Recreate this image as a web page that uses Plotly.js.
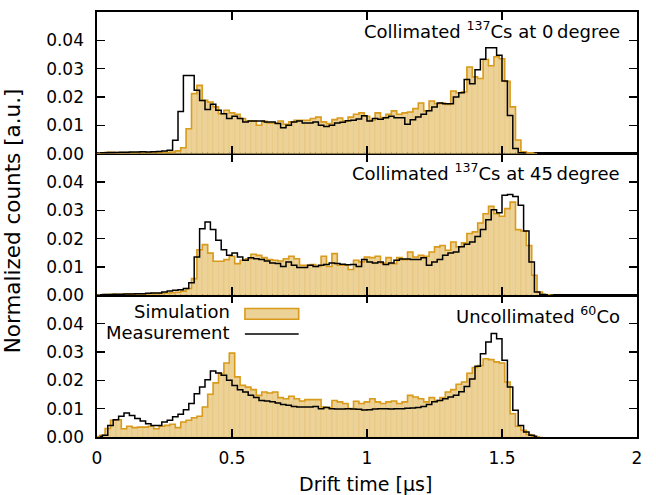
<!DOCTYPE html>
<html>
<head>
<meta charset="utf-8">
<script src="https://cdn.plot.ly/plotly-3.0.1.min.js"></script>
<style>html,body{margin:0;padding:0;background:#fff;}#chart{width:656px;height:495px;}</style>
</head>
<body>
<div id="chart"></div>
<script>
// ---------------- data ----------------
var binWidth = 0.02;             // µs
var xTickVals = [0, 0.5, 1, 1.5, 2];
var xTickText = ["0", "0.5", "1", "1.5", "2"];
var yTickVals = [0, 0.01, 0.02, 0.03, 0.04];

var panelLabels = [
  "Collimated <sup>137</sup>Cs at 0\u2009degree",
  "Collimated <sup>137</sup>Cs at 45\u2009degree",
  "Uncollimated <sup>60</sup>Co"
];
var seriesNames = ["Simulation", "Measurement"];

// Panel 1: collimated 137Cs, 0 degree
var meas0deg = [0.0003,0.0003,0.0004,0.0004,0.0005,0.0005,0.0006,0.0006,0.0007,0.0006,
  0.0007,0.0008,0.0009,0.0012,0.0047,0.0149,0.0276,0.0276,0.0224,0.0188,
  0.0156,0.0174,0.0153,0.0141,0.0124,0.0132,0.0124,0.0112,0.0115,0.0115,
  0.0115,0.0112,0.0112,0.0106,0.0091,0.0100,0.0112,0.0115,0.0108,0.0108,
  0.0112,0.0100,0.0096,0.0100,0.0108,0.0111,0.0116,0.0118,0.0122,0.0134,
  0.0115,0.0124,0.0121,0.0127,0.0132,0.0127,0.0127,0.0104,0.0120,0.0129,
  0.0139,0.0151,0.0165,0.0179,0.0176,0.0176,0.0200,0.0215,0.0262,0.0247,
  0.0296,0.0333,0.0374,0.0374,0.0347,0.0256,0.0135,0.0018,0.0003,0.0002];
var sim0deg = [0,0.0002,0.0005,0.0005,0.0003,0.0004,0.0004,0.0003,0.0005,0.0004,
  0.0004,0.0005,0.0004,0.0005,0.0006,0.0010,0.0021,0.0088,0.0212,0.0241,
  0.0188,0.0182,0.0165,0.0141,0.0153,0.0144,0.0139,0.0124,0.0115,0.0115,
  0.0100,0.0114,0.0108,0.0108,0.0115,0.0104,0.0112,0.0118,0.0118,0.0118,
  0.0124,0.0129,0.0112,0.0106,0.0120,0.0126,0.0115,0.0129,0.0139,0.0144,
  0.0132,0.0118,0.0144,0.0127,0.0139,0.0151,0.0139,0.0144,0.0147,0.0159,
  0.0179,0.0151,0.0186,0.0176,0.0179,0.0174,0.0221,0.0215,0.0218,0.0306,
  0.0271,0.0265,0.0332,0.0310,0.0342,0.0335,0.0255,0.0165,0.0048,0.0007,
  0.0003,0.0002];

// Panel 2: collimated 137Cs, 45 degree
var meas45deg = [0.0002,0.0003,0.0003,0.0004,0.0004,0.0005,0.0005,0.0006,0.0006,0.0007,
  0.0008,0.0008,0.0012,0.0015,0.0018,0.0020,0.0024,0.0044,0.0135,0.0235,
  0.0259,0.0232,0.0194,0.0161,0.0141,0.0149,0.0135,0.0124,0.0133,0.0129,
  0.0126,0.0121,0.0114,0.0112,0.0102,0.0118,0.0106,0.0098,0.0098,0.0106,
  0.0102,0.0106,0.0109,0.0114,0.0112,0.0110,0.0108,0.0109,0.0102,0.0126,
  0.0118,0.0114,0.0118,0.0109,0.0114,0.0124,0.0128,0.0128,0.0126,0.0126,
  0.0133,0.0106,0.0118,0.0126,0.0141,0.0149,0.0153,0.0171,0.0180,0.0188,
  0.0208,0.0232,0.0267,0.0302,0.0291,0.0353,0.0356,0.0349,0.0318,0.0227,
  0.0118,0.0012,0.0003,0.0002];
var sim45deg = [0,0.0002,0.0003,0.0004,0.0003,0.0004,0.0005,0.0004,0.0005,0.0005,
  0.0006,0.0006,0.0007,0.0008,0.0009,0.0011,0.0015,0.0024,0.0059,0.0161,
  0.0179,0.0149,0.0120,0.0120,0.0126,0.0138,0.0112,0.0124,0.0129,0.0145,
  0.0141,0.0133,0.0126,0.0124,0.0121,0.0129,0.0138,0.0129,0.0106,0.0106,
  0.0109,0.0102,0.0138,0.0102,0.0147,0.0106,0.0106,0.0091,0.0124,0.0118,
  0.0135,0.0133,0.0138,0.0114,0.0133,0.0112,0.0133,0.0126,0.0153,0.0135,
  0.0141,0.0138,0.0153,0.0171,0.0176,0.0159,0.0188,0.0171,0.0185,0.0218,
  0.0224,0.0255,0.0288,0.0314,0.0288,0.0279,0.0306,0.0329,0.0232,0.0227,
  0.0176,0.0071,0.0012,0.0003,0.0002];

// Panel 3: uncollimated 60Co
var measCo60 = [0.0002,0.0006,0.0041,0.0061,0.0073,0.0085,0.0076,0.0065,0.0056,0.0047,
  0.0041,0.0041,0.0053,0.0059,0.0071,0.0080,0.0096,0.0118,0.0153,0.0176,
  0.0202,0.0233,0.0226,0.0218,0.0200,0.0182,0.0167,0.0159,0.0147,0.0139,
  0.0129,0.0127,0.0124,0.0120,0.0115,0.0112,0.0108,0.0106,0.0106,0.0106,
  0.0108,0.0100,0.0104,0.0100,0.0099,0.0099,0.0100,0.0099,0.0098,0.0095,
  0.0096,0.0099,0.0100,0.0100,0.0099,0.0100,0.0100,0.0101,0.0102,0.0104,
  0.0108,0.0115,0.0124,0.0129,0.0135,0.0141,0.0147,0.0160,0.0178,0.0205,
  0.0250,0.0294,0.0335,0.0365,0.0347,0.0271,0.0176,0.0094,0.0041,0.0018,
  0.0006,0.0002];
var simCo60 = [0.0002,0.0006,0.0030,0.0059,0.0061,0.0029,0.0038,0.0033,0.0035,0.0035,
  0.0038,0.0029,0.0038,0.0041,0.0045,0.0033,0.0053,0.0059,0.0068,0.0073,
  0.0106,0.0151,0.0191,0.0224,0.0261,0.0296,0.0212,0.0182,0.0176,0.0167,
  0.0147,0.0159,0.0155,0.0159,0.0139,0.0135,0.0144,0.0135,0.0127,0.0132,
  0.0132,0.0132,0.0106,0.0104,0.0129,0.0124,0.0118,0.0100,0.0126,0.0118,
  0.0124,0.0135,0.0124,0.0118,0.0124,0.0127,0.0118,0.0124,0.0147,0.0141,
  0.0135,0.0124,0.0139,0.0129,0.0139,0.0159,0.0167,0.0186,0.0194,0.0225,
  0.0245,0.0252,0.0276,0.0273,0.0265,0.0261,0.0194,0.0082,0.0038,0.0024,
  0.0009,0.0003,0.0001];

// ---------------- drawing ----------------
// measurement bins start at 0; simulation bins are centred on multiples of the bin width
function measCenters(arr){ return arr.map(function(_, i){ return binWidth*(i+0.5); }); }
function simCenters(arr){ return arr.map(function(_, i){ return binWidth*i; }); }

var FONT = "DejaVu Sans";
var fillCol = "#ecd296";
var edgeCol = "#d99b1c";

var panels = [
  {sim: sim0deg,  meas: meas0deg,  xa: "x3", ya: "y3"},
  {sim: sim45deg, meas: meas45deg, xa: "x2", ya: "y2"},
  {sim: simCo60,  meas: measCo60,  xa: "x",  ya: "y"}
];

var traces = [];
panels.forEach(function(p){
  var sx = simCenters(p.sim), mx = measCenters(p.meas);
  traces.push({type:"bar", x:sx, y:p.sim, width:binWidth, xaxis:p.xa, yaxis:p.ya,
    marker:{color:fillCol, line:{color:"rgba(218,158,40,0.4)", width:0.5}},
    showlegend:false, hoverinfo:"skip"});
  traces.push({type:"scatter", mode:"lines", x:sx, y:p.sim, xaxis:p.xa, yaxis:p.ya,
    line:{shape:"hvh", color:edgeCol, width:1.6}, showlegend:false, hoverinfo:"skip"});
  traces.push({type:"scatter", mode:"lines", x:mx, y:p.meas, xaxis:p.xa, yaxis:p.ya,
    line:{shape:"hvh", color:"#000", width:1.5}, showlegend:false, hoverinfo:"skip"});
});

function xAxis(anchor, labels){
  return {anchor:anchor, range:[0,2], tickvals:xTickVals, ticktext:xTickText,
    showticklabels:labels, ticks:"inside", ticklen:8, tickwidth:1.2, tickcolor:"#000",
    showline:true, linecolor:"#000", linewidth:1.6, mirror:"ticks",
    showgrid:false, zeroline:false, ticklabelstandoff:5,
    tickfont:{family:FONT, size:17, color:"#000"}};
}
function yAxis(anchor, domain){
  return {anchor:anchor, domain:domain, range:[0,0.04998], tickvals:yTickVals,
    tickformat:".2f", ticks:"inside", ticklen:8, tickwidth:1.2, tickcolor:"#000",
    showline:true, linecolor:"#000", linewidth:1.6, mirror:"ticks",
    showgrid:false, zeroline:false, ticklabelstandoff:8,
    tickfont:{family:FONT, size:17, color:"#000"}};
}

var labelFont = {family:FONT, size:18, color:"#000"};
var layout = {
  width:656, height:495,
  margin:{l:97, r:19, t:12, b:58, pad:0},
  paper_bgcolor:"#fff", plot_bgcolor:"#fff",
  bargap:0, barmode:"overlay", showlegend:false,
  font:{family:FONT, color:"#000"},
  xaxis: xAxis("y", true),
  xaxis2: Object.assign(xAxis("y2", false), {matches:"x"}),
  xaxis3: Object.assign(xAxis("y3", false), {matches:"x"}),
  yaxis: yAxis("x", [0, 1/3]),
  yaxis2: yAxis("x2", [1/3, 2/3]),
  yaxis3: yAxis("x3", [2/3, 1]),
  annotations:[
    {text:panelLabels[0], xref:"paper", yref:"paper", x:0.972, y:0.958, xanchor:"right", yanchor:"middle", showarrow:false, font:labelFont},
    {text:panelLabels[1], xref:"paper", yref:"paper", x:0.972, y:0.623, xanchor:"right", yanchor:"middle", showarrow:false, font:labelFont},
    {text:panelLabels[2], xref:"paper", yref:"paper", x:0.972, y:0.287, xanchor:"right", yanchor:"middle", showarrow:false, font:labelFont},
    {text:seriesNames[0], xref:"paper", yref:"paper", x:0.2494, y:0.296, xanchor:"right", yanchor:"middle", showarrow:false, font:labelFont},
    {text:seriesNames[1], xref:"paper", yref:"paper", x:0.2494, y:0.2465, xanchor:"right", yanchor:"middle", showarrow:false, font:labelFont},
    {text:"Drift time [µs]", xref:"paper", yref:"paper", x:0.497, y:-0.111, xanchor:"center", yanchor:"middle", showarrow:false, font:{family:FONT, size:19, color:"#000"}},
    {text:"Normalized counts [a.u.]", xref:"paper", yref:"paper", x:-0.157, y:0.508, xanchor:"center", yanchor:"middle", textangle:-90, showarrow:false, font:{family:FONT, size:21.5, color:"#000"}}
  ],
  shapes:[
    {type:"rect", xref:"paper", yref:"paper", x0:0.2739, x1:0.3735, y0:0.277, y1:0.3023,
      fillcolor:fillCol, line:{color:edgeCol, width:1.6}},
    {type:"line", xref:"paper", yref:"paper", x0:0.2739, x1:0.3735, y0:0.2425, y1:0.2425,
      line:{color:"#000", width:1.5}}
  ]
};

Plotly.newPlot("chart", traces, layout, {staticPlot:true, displayModeBar:false});
</script>
</body>
</html>
